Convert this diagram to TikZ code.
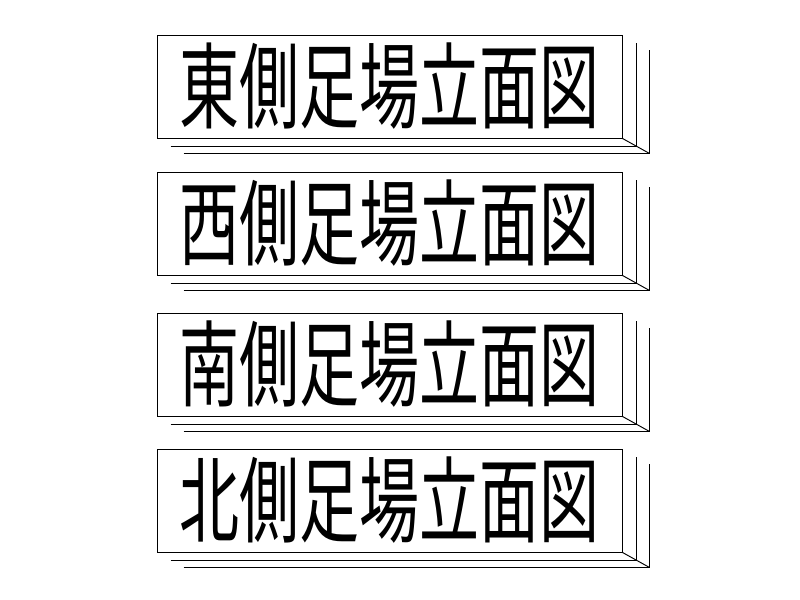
\documentclass[tikz,border=0pt]{standalone}
\usepackage{fontspec}
\newfontfamily\cjk{Noto Sans CJK JP}
\usepackage{tikz}
\tikzset{title/.style={draw, line width=0.8pt, inner sep=0pt,
  minimum width=13.95cm, minimum height=3.09cm, fill=white},
  back/.style={line width=0.8pt}}
\newcommand{\bigtitle}[1]{\scalebox{0.64}[1]{\fontsize{80}{80}\selectfont\cjk #1}}

\begin{document}
\begin{tikzpicture}[x=0.03cm,y=-0.03cm]
\useasboundingbox (0,0) rectangle (800,600);

\foreach \dir/\y [count=\i] in {東/86.5, 西/223.5, 南/364.5, 北/500.5}{
\node[title] (t\i) at (389.5,\y) {\bigtitle{\dir 側足場立面図}};
% stacked sheets behind
\draw[back] ([shift={(14,8)}]t\i.south west)
  -- ([shift={(14,8)}]t\i.south east)
  -- ([shift={(14,8)}]t\i.north east);
\draw[back] ([shift={(27,15)}]t\i.south west)
  -- ([shift={(27,15)}]t\i.south east)
  -- ([shift={(27,15)}]t\i.north east);
\draw[back] (t\i.south east) -- ([shift={(27,15)}]t\i.south east);
}
\end{tikzpicture}
\end{document}
